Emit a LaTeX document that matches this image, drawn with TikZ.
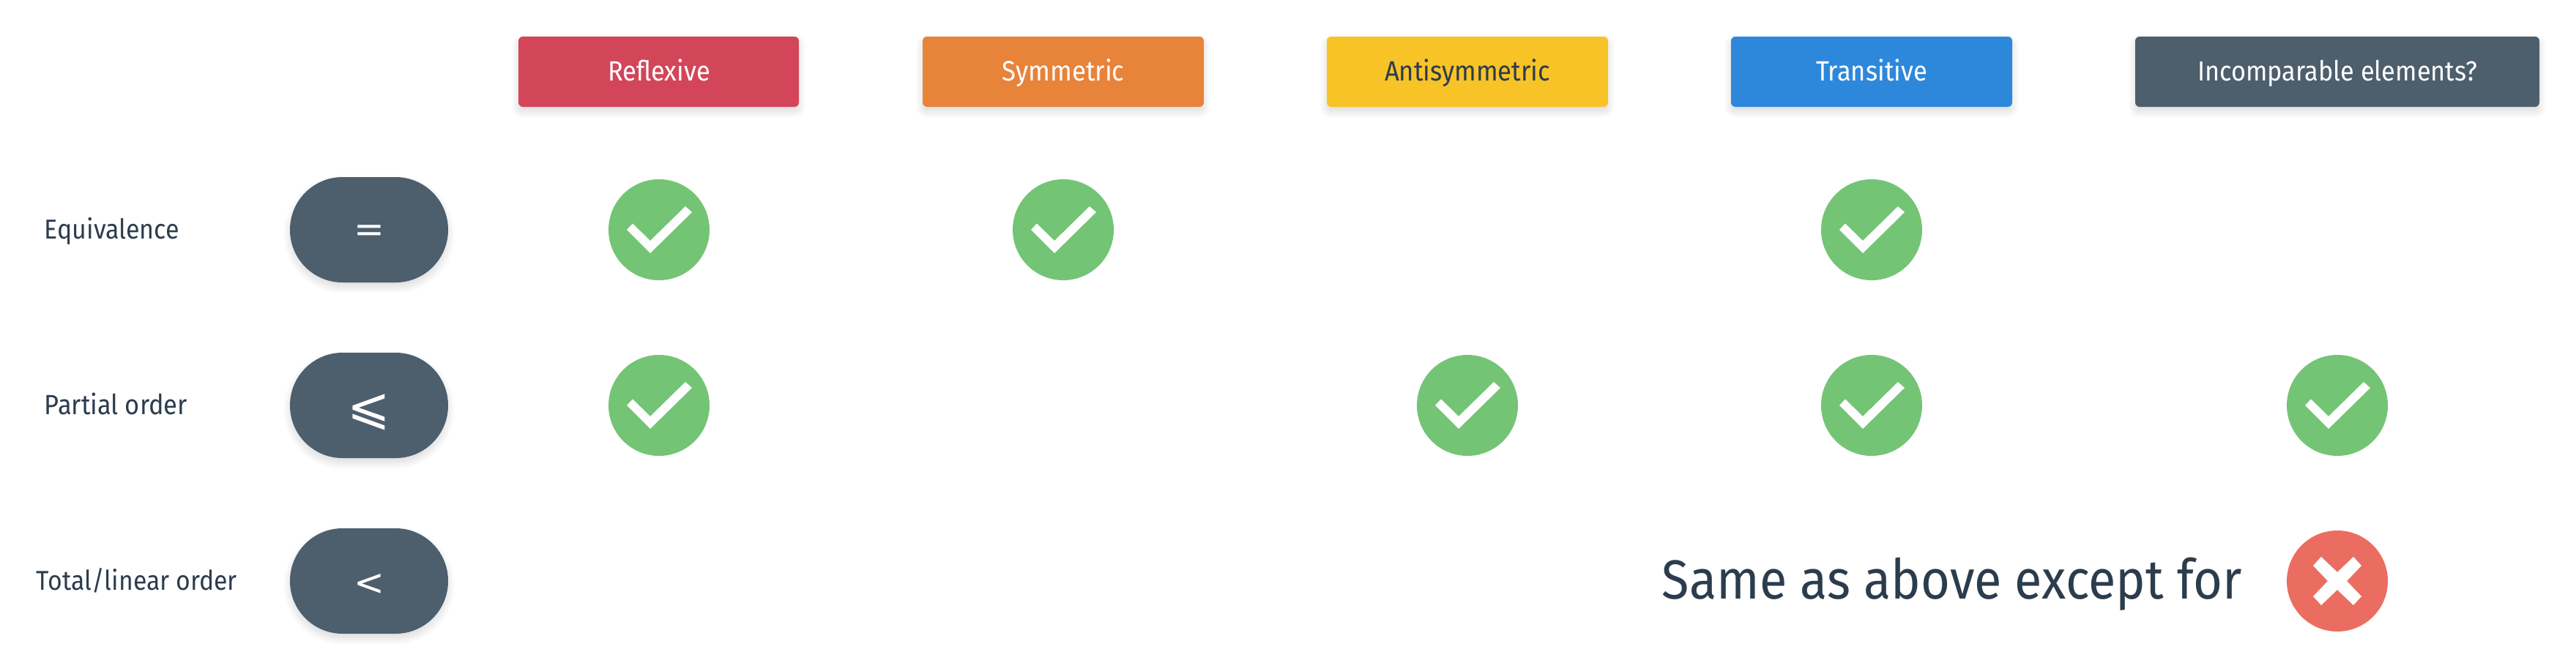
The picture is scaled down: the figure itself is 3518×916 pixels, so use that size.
\documentclass[tikz,border=0pt]{standalone}
\usepackage{fontspec}
\setmainfont{Fira Sans}
\newfontfamily\symf{DejaVu Sans}
\definecolor{cred}{HTML}{D34559}
\definecolor{corange}{HTML}{E8833A}
\definecolor{cyellow}{HTML}{F8C326}
\definecolor{cblue}{HTML}{2D88DB}
\definecolor{cslate}{HTML}{4D5E6D}
\definecolor{cgreen}{HTML}{74C476}
\definecolor{ccoral}{HTML}{EB6D61}
\definecolor{cink}{HTML}{2B3C4D}
\newcommand\fitw[2]{\scalebox{1}[1.1]{\resizebox{#1pt}{!}{#2}}}
\newcommand\softshadow[5]{%
  \foreach \k in {-5,...,9}{
    \fill[black,opacity=.006,rounded corners=#5pt+\k*.5pt]
      (#1-\k,#2+6-\k) rectangle (#3+\k,#4+6+\k);}}
\tikzset{
  x=.5pt,y=-.5pt,
  head/.style={rounded corners=3pt,minimum height=48pt,inner sep=0pt,anchor=center,text=white},
  pill/.style={rounded corners=35.9pt,fill=cslate,minimum width=108pt,minimum height=72pt,inner sep=0pt},
  okdot/.style={circle,fill=cgreen,minimum size=69pt,inner sep=0pt},
  nodot/.style={circle,fill=ccoral,minimum size=69pt,inner sep=0pt},
  txt/.style={anchor=base,inner sep=0pt,text=cink},
  sym/.style={anchor=center,inner sep=0pt,text=white,font=\symf},
  tick/.pic={\fill[white] (-44,0)--(-36,-8.5)--(-12,15)--(36,-32)--(45,-24)--(-12,32)--cycle;},
  cross/.pic={\fill[white] (-33,-21)--(-22,-33)--(0,-12)--(22,-33)--(33,-21)--(13,0)--(33,21)--(22,33)--(0,12)--(-22,33)--(-33,21)--(-13,0)--cycle;}
}
\begin{document}
\begin{tikzpicture}
\useasboundingbox (0,0) rectangle (3518,916);
% shadows
\softshadow{708}{50}{1091}{146}{3}
\softshadow{1260}{50}{1644}{146}{3}
\softshadow{1812}{50}{2196}{146}{3}
\softshadow{2364}{50}{2748}{146}{3}
\softshadow{2916}{50}{3468}{146}{3}
\softshadow{396}{242}{612}{386}{36}
\softshadow{396}{482}{612}{626}{36}
\softshadow{396}{722}{612}{866}{36}
% headers
\node[head,fill=cred,minimum width=191.5pt] (h1) at (899.5,98) {};
\node[head,fill=corange,minimum width=192pt] (h2) at (1452,98) {};
\node[head,fill=cyellow,minimum width=192pt] (h3) at (2004,98) {};
\node[head,fill=cblue,minimum width=192pt] (h4) at (2556,98) {};
\node[head,fill=cslate,minimum width=276pt] (h5) at (3192,98) {};
\node[txt,text=white] (t1) at (900,110) {\fitw{70}{Reflexive}};
\node[txt,text=white] (t2) at (1452,110) {\fitw{83.5}{Symmetric}};
\node[txt,text=cink] (t3) at (2004,110) {\fitw{113}{Antisymmetric}};
\node[txt,text=white] (t4) at (2556,110) {\fitw{76}{Transitive}};
\node[txt,text=white] (t5) at (3192,110) {\fitw{191}{Incomparable elements?}};
% rows
\node[txt] (r1) at (153,326) {\fitw{92}{Equivalence}};
\node[txt] (r2) at (158.5,566) {\fitw{97.5}{Partial order}};
\node[txt] (r3) at (187,806) {\fitw{137}{Total/linear order}};
\node[pill] (p1) at (504,314) {};
\node[pill] (p2) at (504,554) {};
\node[pill] (p3) at (504,794) {};
\node[sym] (s1) at (504,319) {\fontsize{25}{25}\selectfont =};
\node[sym] (s2) at (504,563) {\fontsize{35}{35}\selectfont ⩽};
\node[sym] (s3) at (504,799) {\fontsize{25}{25}\selectfont <};
% marks
\node[okdot] (a1) at (900,314) {}; \path (a1.center) pic {tick};
\node[okdot] (a2) at (1452,314) {}; \path (a2.center) pic {tick};
\node[okdot] (a4) at (2556,314) {}; \path (a4.center) pic {tick};
\node[okdot] (b1) at (900,554) {}; \path (b1.center) pic {tick};
\node[okdot] (b3) at (2004,554) {}; \path (b3.center) pic {tick};
\node[okdot] (b4) at (2556,554) {}; \path (b4.center) pic {tick};
\node[okdot] (b5) at (3192,554) {}; \path (b5.center) pic {tick};
\node[nodot] (c5) at (3192,794) {}; \path (c5.center) pic {cross};
\node[txt] (same) at (2666,818) {\fitw{396}{Same as above except for}};
\end{tikzpicture}
\end{document}
